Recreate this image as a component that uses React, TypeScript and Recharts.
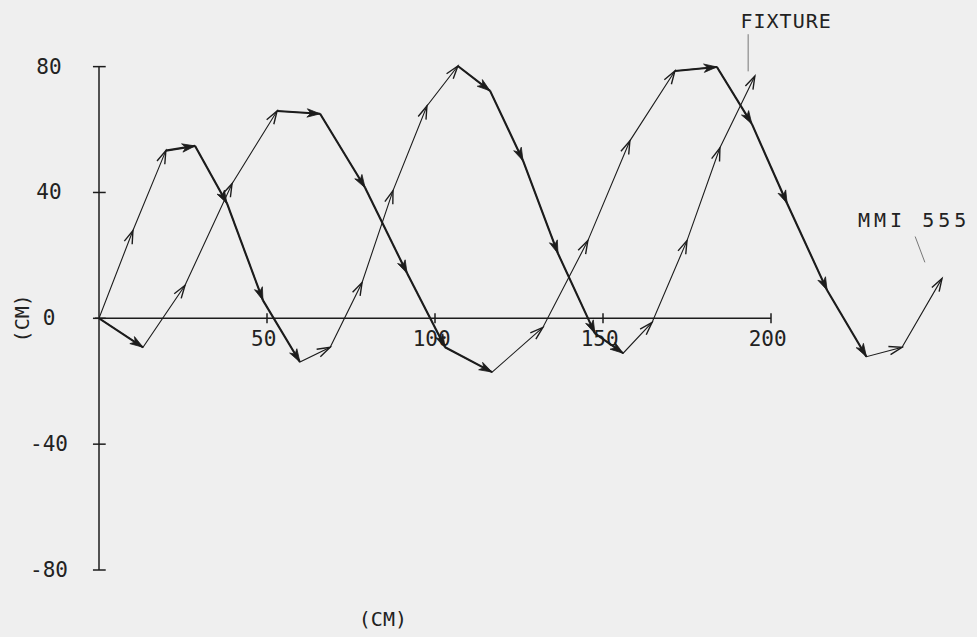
import React from 'react';
import { LineChart, Line, XAxis, YAxis, ReferenceLine, ReferenceDot } from 'recharts';

// ---- data ----
const fixtureX = [0, 10.1, 19.9, 28.6, 38.1, 48.8, 59.8, 68.8, 78.3, 87.5, 97.6, 106.8, 116.4, 126.2, 136.6, 147.6, 156.0, 164.6, 175.0, 184.8, 195.2];
const fixtureY = [0, 27.9, 53.3, 54.8, 36.5, 5.7, -13.9, -9.2, 11.4, 40.6, 67.5, 80.2, 72.3, 50.1, 20.6, -4.8, -11.1, -1.3, 24.7, 54.2, 77.0];
const mmiX = [0, 13.1, 25.6, 39.6, 53.0, 65.8, 79.2, 91.7, 103.0, 117.0, 132.1, 145.5, 158.0, 171.4, 183.9, 194.3, 204.8, 216.7, 228.4, 239.0, 250.9];
const mmiY = [0, -9.2, 10.5, 42.8, 65.9, 65.0, 41.5, 14.3, -9.2, -17.1, -2.9, 24.7, 56.4, 78.6, 79.9, 61.8, 36.5, 8.9, -12.2, -9.2, 12.7];
const yTicks = [-80, -40, 0, 40, 80];
const xTicks = [50, 100, 150, 200];
const xAxisEnd = 200;
const seriesNames = ['FIXTURE', 'MMI 555'];
const axisUnit = '(CM)';

// ---- layout ----
const CHART_W = 977;
const CHART_H = 637;
const MARGIN = { top: 66, right: 4.4, bottom: 67, left: 39 };
const Y_AXIS_W = 60;
const X_DOMAIN: [number, number] = [0, 260];
const Y_DOMAIN: [number, number] = [-80, 80];
const PLOT_W = CHART_W - MARGIN.left - MARGIN.right - Y_AXIS_W;
const PLOT_H = CHART_H - MARGIN.top - MARGIN.bottom;
const SX = PLOT_W / (X_DOMAIN[1] - X_DOMAIN[0]);
const SY = PLOT_H / (Y_DOMAIN[1] - Y_DOMAIN[0]);
const INK = '#1c1c1c';
const FONT = '"DejaVu Sans Mono", monospace';

const fixtureData = fixtureX.map((x, i) => ({ x, y: fixtureY[i] }));
const mmiData = mmiX.map((x, i) => ({ x, y: mmiY[i] }));

function makeArrowDot(xs: number[], ys: number[], tag: string) {
  return (props: any) => {
    const { cx, cy, index } = props;
    const key = `${tag}-${index}`;
    if (index === 0 || cx == null || cy == null) return <g key={key} />;
    let px: number;
    let py: number;
    const pts = props.points;
    if (pts && pts[index - 1] && pts[index - 1].x != null) {
      px = pts[index - 1].x;
      py = pts[index - 1].y;
    } else {
      px = cx - (xs[index] - xs[index - 1]) * SX;
      py = cy + (ys[index] - ys[index - 1]) * SY;
    }
    const dx = cx - px;
    const dy = cy - py;
    const len = Math.hypot(dx, dy) || 1;
    const ux = dx / len;
    const uy = dy / len;
    const nx = -uy;
    const ny = ux;
    const L = 13;
    const W = 4.2;
    const bx = cx - ux * L;
    const by = cy - uy * L;
    const falling = ys[index] - ys[index - 1] < 2;
    if (falling) {
      const mx = cx - ux * L * 0.72;
      const my = cy - uy * L * 0.72;
      return (
        <g key={key}>
          <line x1={px} y1={py} x2={cx} y2={cy} stroke={INK} strokeWidth={2.1} />
          <polygon
            points={`${cx},${cy} ${bx + nx * W},${by + ny * W} ${mx},${my} ${bx - nx * W},${by - ny * W}`}
            fill={INK}
            stroke={INK}
            strokeWidth={0.8}
          />
        </g>
      );
    }
    return (
      <g key={key}>
        <polyline
          points={`${bx + nx * W},${by + ny * W} ${cx},${cy} ${bx - nx * W},${by - ny * W}`}
          fill="none"
          stroke={INK}
          strokeWidth={1.4}
        />
      </g>
    );
  };
}

const YTick = (props: any) => {
  const { x, y, payload } = props;
  return (
    <text x={x} y={y} textAnchor="middle" dominantBaseline="central" fontFamily={FONT} fontSize={21} fill="#222">
      {String(payload.value)}
    </text>
  );
};

const textShape = (label: string, size: number, opts: any = {}) => (p: any) => (
  <text
    x={p.cx}
    y={p.cy}
    textAnchor="middle"
    dominantBaseline="central"
    fontFamily={FONT}
    fontSize={size}
    fill="#222"
    letterSpacing={opts.spacing || 0}
    transform={opts.rotate ? `rotate(${opts.rotate} ${p.cx} ${p.cy})` : undefined}
  >
    {label}
  </text>
);

export default function App() {
  return (
    <div style={{ position: 'absolute', left: 0, top: 0, width: CHART_W, height: CHART_H, background: '#efefef' }}>
      <LineChart width={CHART_W} height={CHART_H} margin={MARGIN}>
        <XAxis dataKey="x" type="number" domain={X_DOMAIN} hide allowDataOverflow />
        <YAxis
          type="number"
          domain={Y_DOMAIN}
          ticks={yTicks}
          width={Y_AXIS_W}
          tickSize={0}
          tickMargin={50}
          tickLine={false}
          axisLine={{ stroke: INK, strokeWidth: 1.5 }}
          tick={<YTick />}
          interval={0}
        />
        {/* x axis drawn through y = 0 */}
        <ReferenceLine
          segment={[{ x: -1.2, y: 0 }, { x: xAxisEnd, y: 0 }]}
          stroke={INK}
          strokeWidth={1.5}
          ifOverflow="visible"
        />
        {xTicks.map((t) => (
          <ReferenceLine
            key={`xt-${t}`}
            segment={[{ x: t, y: -1.6 }, { x: t, y: 1.6 }]}
            stroke={INK}
            strokeWidth={1.5}
            ifOverflow="visible"
          />
        ))}
        {xTicks.map((t) => (
          <ReferenceDot
            key={`xl-${t}`}
            x={t - 1}
            y={-6.5}
            r={0}
            ifOverflow="visible"
            shape={textShape(String(t), 21)}
          />
        ))}
        {yTicks.map((t) => (
          <ReferenceLine
            key={`yt-${t}`}
            segment={[{ x: -1.8, y: t }, { x: 2.0, y: t }]}
            stroke={INK}
            strokeWidth={1.5}
            ifOverflow="visible"
          />
        ))}
        {/* axis unit labels */}
        <ReferenceDot x={84.5} y={-95.5} r={0} ifOverflow="visible" shape={textShape(axisUnit, 20)} />
        <ReferenceDot x={-23} y={0} r={0} ifOverflow="visible" shape={textShape(axisUnit, 20, { rotate: -90 })} />
        {/* series annotations */}
        <ReferenceDot x={204.5} y={94.6} r={0} ifOverflow="visible" shape={textShape(seriesNames[0], 20, { spacing: 1 })} />
        <ReferenceLine
          segment={[{ x: 193.2, y: 90.3 }, { x: 193.2, y: 78.5 }]}
          stroke="#777"
          strokeWidth={1}
          ifOverflow="visible"
        />
        <ReferenceDot x={242.6} y={31.2} r={0} ifOverflow="visible" shape={textShape(seriesNames[1], 20, { spacing: 4 })} />
        <ReferenceLine
          segment={[{ x: 242.9, y: 26 }, { x: 245.8, y: 17.8 }]}
          stroke="#777"
          strokeWidth={1}
          ifOverflow="visible"
        />
        <Line
          data={fixtureData}
          dataKey="y"
          name={seriesNames[0]}
          stroke={INK}
          strokeWidth={1.1}
          isAnimationActive={false}
          dot={makeArrowDot(fixtureX, fixtureY, 'fx')}
          activeDot={false}
        />
        <Line
          data={mmiData}
          dataKey="y"
          name={seriesNames[1]}
          stroke={INK}
          strokeWidth={1.1}
          isAnimationActive={false}
          dot={makeArrowDot(mmiX, mmiY, 'mm')}
          activeDot={false}
        />
      </LineChart>
    </div>
  );
}
